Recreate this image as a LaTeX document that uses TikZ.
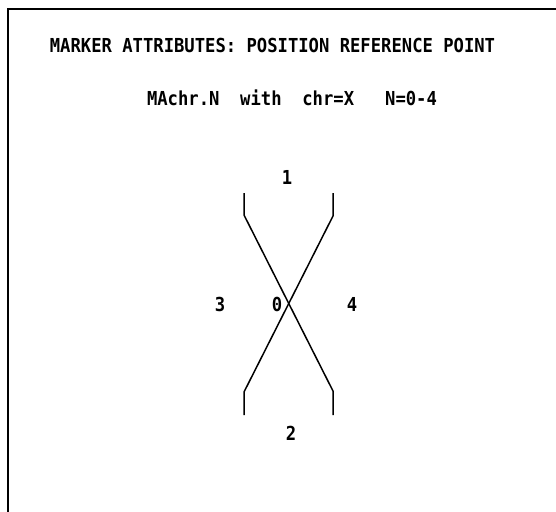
\documentclass[tikz,border=0pt]{standalone}
\usepackage{fontspec}
\newfontfamily\plotfont{DejaVu Sans Mono}
\begin{document}
\begin{tikzpicture}[x=1pt,y=-1pt,
  lbl/.style={inner sep=0pt, anchor=center, yscale=1.12, font=\plotfont\bfseries\fontsize{17.2pt}{20pt}\selectfont},
  frameline/.style={line width=2pt, line cap=rect},
  markline/.style={line width=1.5pt, line join=miter}]
\useasboundingbox[fill=white] (0,0) rectangle (556,511);
% frame (top and left edges only)
\coordinate (fbl) at (8,511);
\coordinate (ftl) at (8,9);
\coordinate (ftr) at (556,9);
\draw[frameline] (fbl) -- (ftl) -- (ftr);
% texts
\node[lbl] (title) at (272.5,45) {MARKER ATTRIBUTES: POSITION REFERENCE POINT};
\node[lbl] (sub) at (292,98) {MAchr.N\ \ with\ \ chr=X\ \ \ N=0-4};
% marker shape
\coordinate (a1) at (244,193);
\coordinate (a2) at (244,215);
\coordinate (a3) at (333,391);
\coordinate (a4) at (333,415);
\coordinate (b1) at (333,193);
\coordinate (b2) at (333,216);
\coordinate (b3) at (244,392);
\coordinate (b4) at (244,415);
\draw[markline] (a1) -- (a2) -- (a3) -- (a4);
\draw[markline] (b1) -- (b2) -- (b3) -- (b4);
% position labels
\node[lbl] (p1) at (287,177) {1};
\node[lbl] (p3) at (220,304) {3};
\node[lbl] (p0) at (277,304) {0};
\node[lbl] (p4) at (352,304) {4};
\node[lbl] (p2) at (291,433) {2};
\end{tikzpicture}
\end{document}
